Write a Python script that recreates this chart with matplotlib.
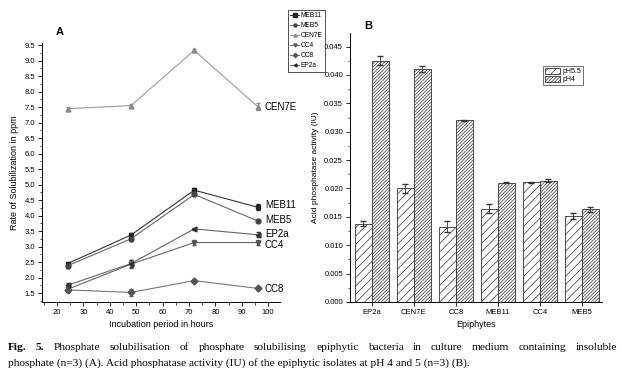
import numpy as np
import matplotlib
matplotlib.use("Agg")
from matplotlib import pyplot as plt
from matplotlib.ticker import MultipleLocator
from matplotlib.lines import Line2D

plt.rcParams['font.family'] = ['Liberation Sans', 'DejaVu Sans']
plt.rcParams['hatch.linewidth'] = 0.5

# panel A data
hours = [24, 48, 72, 96]
strains = ['MEB11', 'MEB5', 'CEN7E', 'CC4', 'CC8', 'EP2a']
sol = {
    'MEB11': [2.45, 3.37, 4.82, 4.27],
    'MEB5': [2.38, 3.25, 4.68, 3.83],
    'CEN7E': [7.45, 7.55, 9.33, 7.52],
    'CC4': [1.62, 2.43, 3.13, 3.13],
    'CC8': [1.60, 1.52, 1.90, 1.65],
    'EP2a': [1.75, 2.45, 3.57, 3.38],
}
sol_err = {
    'MEB11': [0.05, 0.08, 0.06, 0.10],
    'MEB5': [0.06, 0.06, 0.05, 0.04],
    'CEN7E': [0.06, 0.05, 0.05, 0.10],
    'CC4': [0.10, 0.12, 0.08, 0.08],
    'CC8': [0.08, 0.12, 0.05, 0.04],
    'EP2a': [0.06, 0.10, 0.04, 0.08],
}
markers = {'MEB11': 's', 'MEB5': 'o', 'CEN7E': '^', 'CC4': 'v', 'CC8': 'D', 'EP2a': '<'}
colors = {'MEB11': '#222222', 'MEB5': '#444444', 'CEN7E': '#8a8a8a',
          'CC4': '#555555', 'CC8': '#555555', 'EP2a': '#333333'}
line_colors = {'MEB11': '#333333', 'MEB5': '#666666', 'CEN7E': '#9a9a9a',
               'CC4': '#666666', 'CC8': '#777777', 'EP2a': '#666666'}
end_labels = {'MEB11': 4.35, 'MEB5': 3.85, 'CEN7E': 7.52, 'CC4': 3.05, 'CC8': 1.62, 'EP2a': 3.40}

# panel B data
epiphytes = ['EP2a', 'CEN7E', 'CC8', 'MEB11', 'CC4', 'MEB5']
ph55 = [0.0138, 0.0200, 0.0133, 0.0164, 0.0211, 0.0151]
ph55_err = [0.0004, 0.0008, 0.0009, 0.0008, 0.0001, 0.0005]
ph4 = [0.0425, 0.0410, 0.0320, 0.0210, 0.0214, 0.0163]
ph4_err = [0.0008, 0.0005, 0.0001, 0.0001, 0.0002, 0.0004]

caption1 = ('Phosphate solubilisation of phosphate solubilising epiphytic bacteria '
            'in culture medium containing insoluble')
caption2 = ('phosphate (n=3) (A). Acid phosphatase activity (IU) of the epiphytic '
            'isolates at pH 4 and 5 (n=3) (B).')

fig = plt.figure(figsize=(6.25, 3.77), dpi=100)

# ---- panel A ----
axA = fig.add_axes([42/625, 1-302/377, 238/625, 259/377])
handles = []
for s in strains:
    axA.errorbar(hours, sol[s], yerr=sol_err[s], color=line_colors[s], lw=0.8,
                 marker=markers[s], ms=3.5, mfc=colors[s], mec=colors[s],
                 ecolor=colors[s], elinewidth=0.6, capsize=1.5)
    handles.append(Line2D([], [], color=line_colors[s], lw=0.7, marker=markers[s],
                          ms=2.2, mfc=colors[s], mec=colors[s], label=s))
    axA.text(98.8, end_labels[s], s, fontsize=7, va='center', ha='left')
axA.set_xticks(range(20, 101, 10))
axA.xaxis.set_minor_locator(MultipleLocator(5))
axA.set_xlim(14.3, 104.5)
axA.set_ylim(1.21, 9.57)
axA.yaxis.set_major_locator(MultipleLocator(0.5))
axA.yaxis.set_minor_locator(MultipleLocator(0.25))
axA.yaxis.set_major_formatter(plt.FormatStrFormatter('%.1f'))
axA.tick_params(labelsize=5.5, length=3, width=0.6, direction='out', pad=2)
axA.tick_params(which='minor', length=1.8, width=0.5)
for sp in ['top', 'right']:
    axA.spines[sp].set_visible(False)
for sp in ['left', 'bottom']:
    axA.spines[sp].set_linewidth(0.7)
axA.set_xlabel('Incubation period in hours', fontsize=6.5, labelpad=3)
axA.set_ylabel('Rate of Solubilization in ppm', fontsize=6.5, labelpad=4)
fig.text(60/625, 1-32/377, 'A', fontsize=8, fontweight='bold',
         ha='center', va='center')
legA = fig.legend(handles=handles, loc='upper left',
                  bbox_to_anchor=(288/625, 1-10/377), fontsize=4.8, frameon=True,
                  fancybox=False, edgecolor='black', handlelength=1.3,
                  handletextpad=0.2, borderpad=0.35, labelspacing=0.45,
                  borderaxespad=0)
legA.get_frame().set_linewidth(0.6)

# ---- panel B ----
axB = fig.add_axes([350/625, 1-302/377, 252/625, 269/377])
x = np.arange(len(epiphytes))
w = 0.4
axB.bar(x - w/2, ph55, w, yerr=ph55_err, color='white', edgecolor='#333333',
        hatch='////', lw=0.6, label='pH5.5',
        error_kw=dict(elinewidth=0.6, capsize=2, ecolor='#333333'))
axB.bar(x + w/2, ph4, w, yerr=ph4_err, color='white', edgecolor='#333333',
        hatch='//////////', lw=0.6, label='pH4',
        error_kw=dict(elinewidth=0.6, capsize=2, ecolor='#333333'))
axB.set_xlim(-0.52, 5.48)
axB.set_ylim(0, 0.0474)
axB.set_xticks(x)
axB.set_xticklabels(epiphytes)
axB.yaxis.set_major_locator(MultipleLocator(0.005))
axB.yaxis.set_minor_locator(MultipleLocator(0.0025))
axB.yaxis.set_major_formatter(plt.FormatStrFormatter('%.3f'))
axB.tick_params(labelsize=5.5, length=3, width=0.6, direction='out', pad=2)
axB.tick_params(which='minor', length=1.8, width=0.5)
for sp in ['top', 'right']:
    axB.spines[sp].set_visible(False)
for sp in ['left', 'bottom']:
    axB.spines[sp].set_linewidth(0.7)
axB.set_xlabel('Epiphytes', fontsize=6.5, labelpad=3)
axB.set_ylabel('Acid phosphatase activity (IU)', fontsize=6, labelpad=4)
fig.text(368/625, 1-26/377, 'B', fontsize=8, fontweight='bold',
         ha='center', va='center')
legB = axB.legend(loc='upper left', bbox_to_anchor=(543/625, 1-66/377),
                  bbox_transform=fig.transFigure, fontsize=5, frameon=True,
                  fancybox=False, edgecolor='#333333', handlelength=2.2,
                  handleheight=0.9, handletextpad=0.3, borderpad=0.25,
                  labelspacing=0.15, borderaxespad=0)
legB.get_frame().set_linewidth(0.6)

# caption, first line justified between x=8 and x=617 px
serif = ['Liberation Serif', 'DejaVu Serif']
fig.canvas.draw()
renderer = fig.canvas.get_renderer()
words = [('Fig.', 'bold'), ('5.', 'bold')] + [(wd, 'normal') for wd in caption1.split()]
texts = []
total = 0
for wd, fw in words:
    t = fig.text(0, 1-347/377, wd, fontsize=8.2, family=serif, fontweight=fw,
                 va='center', ha='left')
    wpx = t.get_window_extent(renderer).width
    texts.append((t, wpx))
    total += wpx
gap = (617 - 8 - total) / (len(words) - 1)
xpos = 8
for t, wpx in texts:
    t.set_x(xpos / 625)
    xpos += wpx + gap
fig.text(8/625, 1-363/377, caption2, fontsize=8.2, family=serif,
         va='center', ha='left')

fig.savefig('out.png', dpi=100)
